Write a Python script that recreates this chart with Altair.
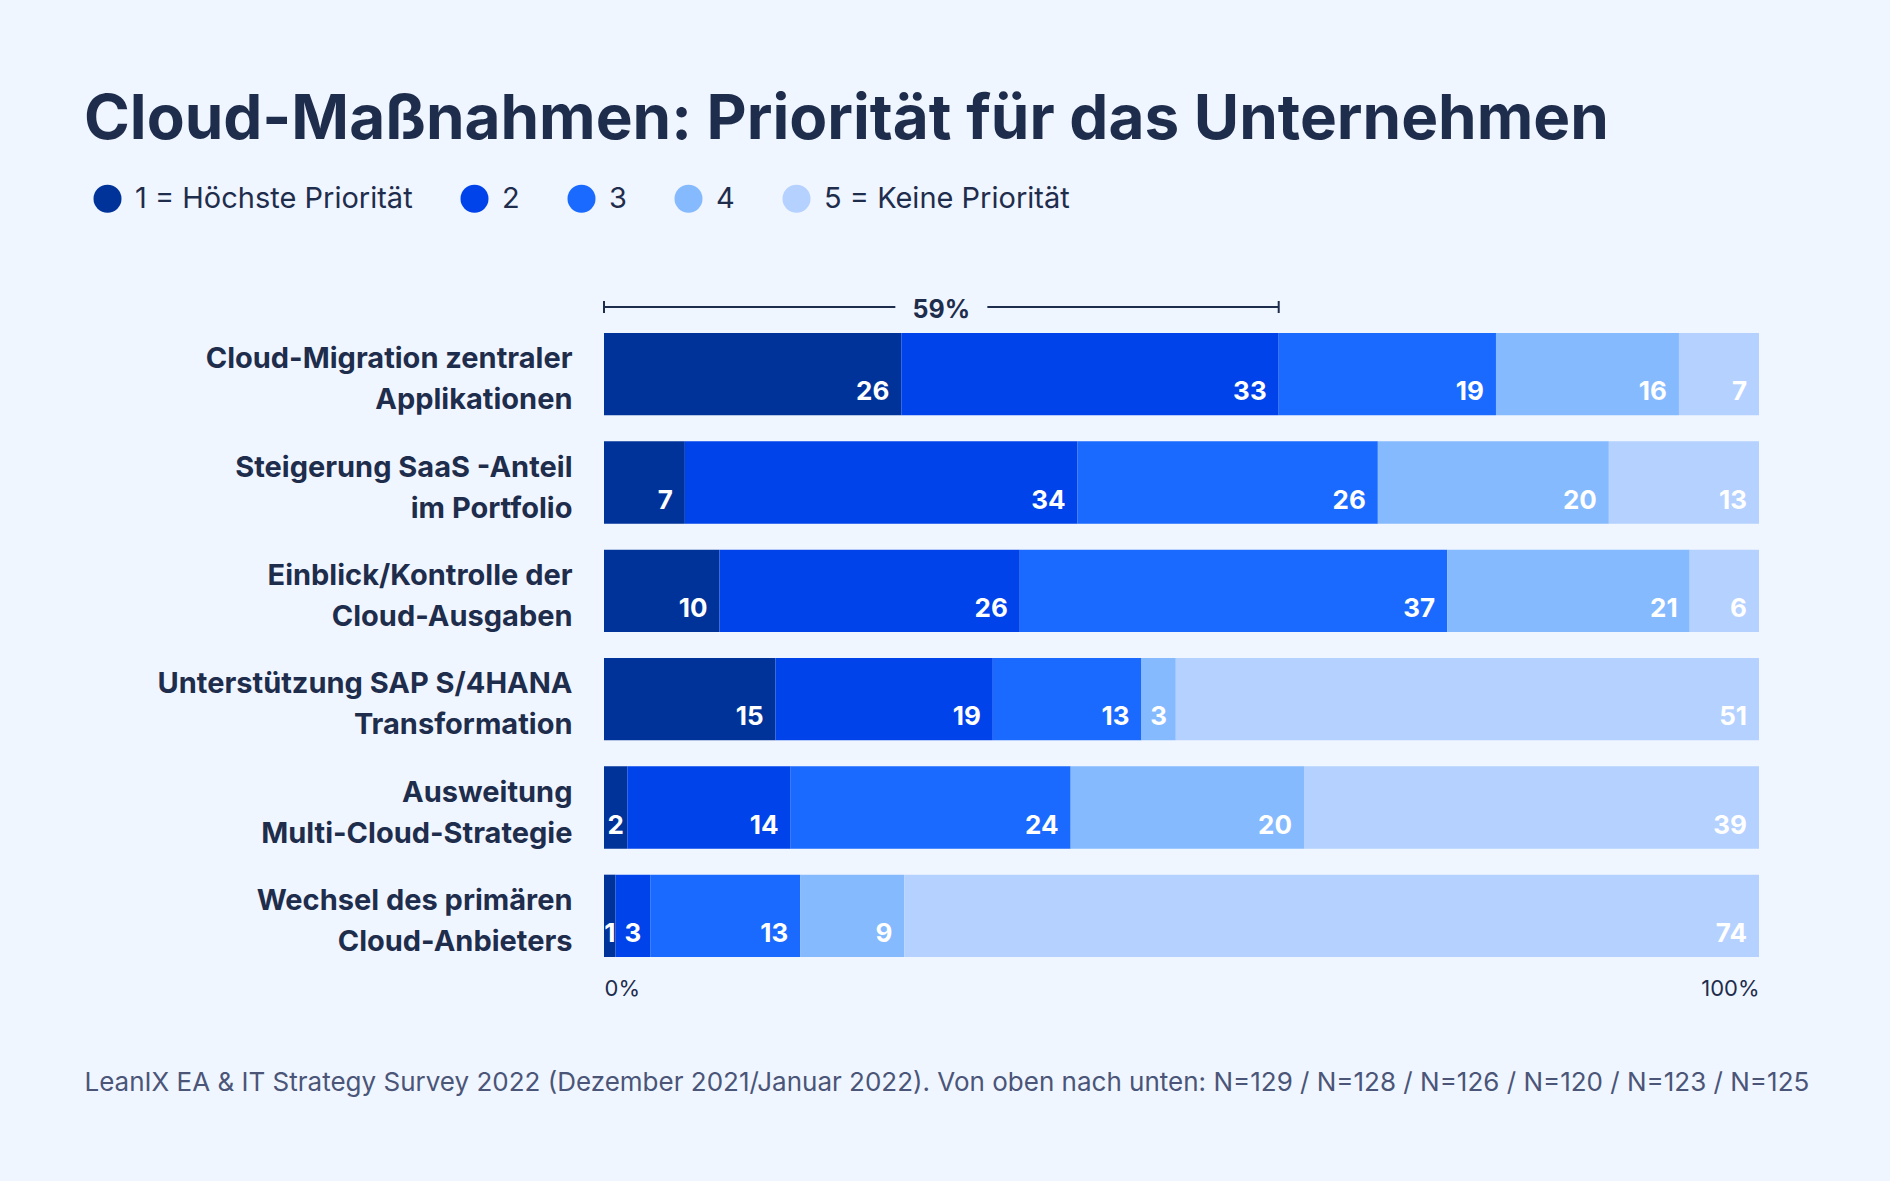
import altair as alt
import pandas as pd

title_text = "Cloud-Maßnahmen: Priorität für das Unternehmen"
footer_text = ("LeanIX EA & IT Strategy Survey 2022 (Dezember 2021/Januar 2022). "
               "Von oben nach unten: N=129 / N=128 / N=126 / N=120 / N=123 / N=125")

categories = [
    "Cloud-Migration zentraler|Applikationen",
    "Steigerung SaaS -Anteil|im Portfolio",
    "Einblick/Kontrolle der|Cloud-Ausgaben",
    "Unterstützung SAP S/4HANA|Transformation",
    "Ausweitung|Multi-Cloud-Strategie",
    "Wechsel des primären|Cloud-Anbieters",
]
prio_labels = ["1 = Höchste Priorität", "2", "3", "4", "5 = Keine Priorität"]
colors = ["#003399", "#0043EB", "#1A6AFF", "#85BAFF", "#B5D1FF"]

v1 = [26, 7, 10, 15, 2, 1]
v2 = [33, 34, 26, 19, 14, 3]
v3 = [19, 26, 37, 13, 24, 13]
v4 = [16, 20, 21, 3, 20, 9]
v5 = [7, 13, 6, 51, 39, 74]

TEXT = "#1F2D4D"
FONT = "Inter"
BG = "#F0F6FF"

rows = []
for i, cat in enumerate(categories):
    vals = [v1[i], v2[i], v3[i], v4[i], v5[i]]
    total = sum(vals)
    cum = 0
    for r, (lab, v) in enumerate(zip(prio_labels, vals)):
        start = cum / total
        cum += v
        rows.append(dict(cat=cat, prio=lab, rank=r + 1, value=v,
                         start=start, end=cum / total,
                         mid=(start + cum / total) / 2))
df = pd.DataFrame(rows)

tot0 = v1[0] + v2[0] + v3[0] + v4[0] + v5[0]
top_share = (v1[0] + v2[0]) / tot0
bdf = pd.DataFrame([dict(x0=0.0, xm=top_share / 2, x1=top_share,
                         label=f"{v1[0] + v2[0]}%")])
tdf = pd.DataFrame([dict(x=0.0), dict(x=top_share)])

ysort = alt.Y("cat:N", sort=categories,
              scale=alt.Scale(paddingInner=0.24, paddingOuter=0.12),
              axis=alt.Axis(title=None, labelExpr="split(datum.label, '|')",
                            labelFontSize=29, labelFontWeight="bold",
                            labelColor=TEXT, labelFont=FONT, labelPadding=32,
                            ticks=False, domain=False, labelLineHeight=41,
                            labelLimit=700, labelBaseline="middle",
                            labelOffset=-15))

bars = alt.Chart(df).mark_bar().encode(
    x=alt.X("start:Q", scale=alt.Scale(domain=[0, 1], nice=False),
            axis=alt.Axis(values=[0, 1], format=".0%", labelFlush=True,
                          grid=False, ticks=False, tickSize=0, domain=False,
                          labelFontSize=22, labelColor=TEXT, labelFont=FONT,
                          labelPadding=8,
                          title=footer_text, titleX=-520, titleY=112,
                          titleAlign="left", titleBaseline="middle",
                          titleAnchor="start",
                          titleFontSize=26, titleFontWeight="normal",
                          titleColor="#4A5578", titleFont=FONT)),
    x2="end:Q",
    y=ysort,
    color=alt.Color("prio:N", scale=alt.Scale(domain=prio_labels, range=colors),
                    legend=alt.Legend(title=None, orient="none", legendX=-511,
                                      legendY=-136, direction="horizontal",
                                      symbolType="circle", symbolSize=784,
                                      labelFontSize=29, labelColor=TEXT,
                                      labelFont=FONT, columnPadding=47,
                                      labelOffset=13, symbolStrokeWidth=0,
                                      symbolOpacity=1, labelLimit=600)),
    order=alt.Order("rank:Q"),
)

labels_big = alt.Chart(df).transform_filter("datum.value > 3").mark_text(
    align="right", baseline="alphabetic", dx=-12, dy=26, color="white",
    fontSize=26, fontWeight="bold", font=FONT
).encode(x="end:Q", y=alt.Y("cat:N", sort=categories), text=alt.Text("value:Q", format="d"))

labels_small = alt.Chart(df).transform_filter("datum.value <= 3").mark_text(
    align="center", baseline="alphabetic", dy=26, color="white",
    fontSize=26, fontWeight="bold", font=FONT
).encode(x="mid:Q", y=alt.Y("cat:N", sort=categories), text=alt.Text("value:Q", format="d"))

rule_left = alt.Chart(bdf).mark_rule(color=TEXT, strokeWidth=2, x2Offset=-46).encode(
    x="x0:Q", x2="xm:Q", y=alt.value(-13))
rule_right = alt.Chart(bdf).mark_rule(color=TEXT, strokeWidth=2, xOffset=46).encode(
    x="xm:Q", x2="x1:Q", y=alt.value(-13))
ticks = alt.Chart(tdf).mark_rule(color=TEXT, strokeWidth=2).encode(
    x="x:Q", y=alt.value(-19), y2=alt.value(-7))
btext = alt.Chart(bdf).mark_text(color=TEXT, fontSize=25, fontWeight="bold",
                                 font=FONT, baseline="middle").encode(
    x="xm:Q", y=alt.value(-10), text="label:N")

chart = alt.layer(bars, labels_big, labels_small, rule_left, rule_right, ticks, btext).properties(
    width=1155, height=650,
    padding={"left": 604, "top": 320, "right": 131, "bottom": 211},
    autosize=alt.AutoSizeParams(type="none"),
    background=BG,
    title=alt.TitleParams(text=title_text, anchor="start", frame="group",
                          dx=-520, fontSize=62, font=FONT, fontWeight="bold",
                          color=TEXT, offset=32),
).configure_view(stroke=None)

chart.save("out.html", embed_options={"renderer": "svg", "actions": False})
